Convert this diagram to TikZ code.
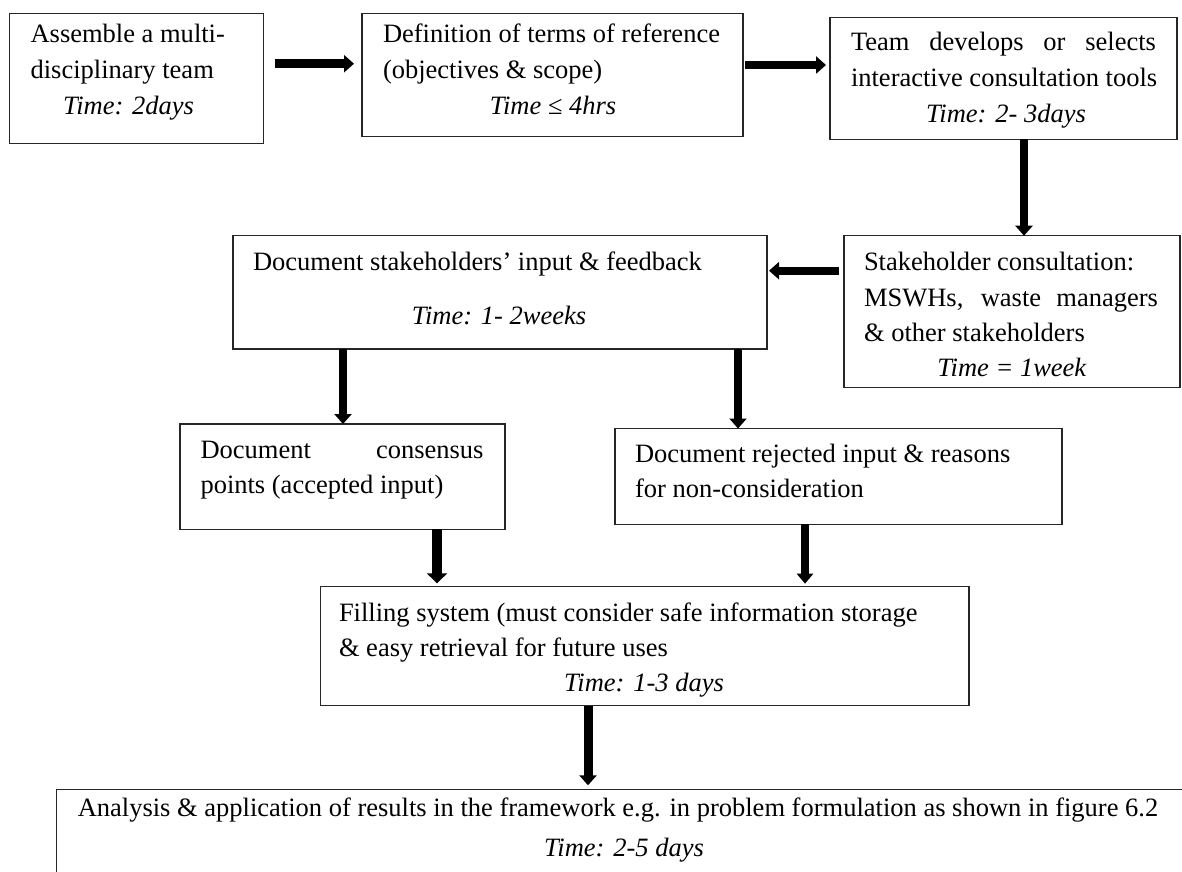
\documentclass[tikz,border=0pt]{standalone}
\usepackage{fontspec}
\setmainfont{Liberation Serif}
\usetikzlibrary{arrows.meta}

% one line of box text, set in a box of the given width and alignment
\newcommand\rowtext[3]{\par\noindent\makebox[#1][#2]{#3}}

\tikzset{
  stepbox/.style={draw=black!85, line width=1.3pt, rectangle, inner sep=0pt, outer sep=0pt},
  boxtext/.style={inner sep=0pt, outer sep=0pt, anchor=base west,
    font=\fontsize{26.5pt}{36pt}\selectfont},
  flow/.style={line width=8.5pt, -{Triangle[width=17pt,length=10pt]}},
}

\begin{document}
\begin{tikzpicture}[x=1pt,y=-1pt]
\useasboundingbox (0,0) rectangle (1182,871);
\clip (0,0) rectangle (1182,871);

% boxes
\node[stepbox, minimum width=254pt, minimum height=130pt]   (b1) at (136.5,78.3) {};
\node[stepbox, minimum width=381pt, minimum height=123.4pt] (b2) at (552.5,75) {};
\node[stepbox, minimum width=347pt, minimum height=122pt]   (b3) at (1003.5,78.3) {};
\node[stepbox, minimum width=336pt, minimum height=151.6pt] (b4) at (1012,311.5) {};
\node[stepbox, minimum width=534pt, minimum height=113.3pt] (b5) at (500,292.35) {};
\node[stepbox, minimum width=325pt, minimum height=105.3pt] (b6) at (342.5,476.65) {};
\node[stepbox, minimum width=447pt, minimum height=95.8pt]  (b7) at (838.5,476.4) {};
\node[stepbox, minimum width=648.5pt, minimum height=119pt] (b8) at (644.75,646.2) {};
\node[stepbox, minimum width=1143.5pt, minimum height=110.7pt] (b9) at (628.25,844.65) {};

% texts
\node[boxtext] (t1) at (30.6,42.5) {\parbox[t]{200pt}{%
  \rowtext{200pt}{l}{Assemble a multi-}%
  \rowtext{200pt}{l}{disciplinary team}%
  \rowtext{200pt}{l}{\hspace*{32.4pt}\textit{Time: 2days}}}};

\node[boxtext] (t2) at (383,42.5) {\parbox[t]{340pt}{%
  \rowtext{340pt}{l}{Definition of terms of reference}%
  \rowtext{340pt}{l}{(objectives \& scope)}%
  \rowtext{340pt}{c}{\textit{Time ≤ 4hrs}}}};

\node[boxtext] (t3) at (851,50.5) {\parbox[t]{310pt}{%
  \rowtext{305pt}{s}{Team develops or selects}%
  \rowtext{305pt}{l}{interactive consultation tools}%
  \rowtext{310pt}{c}{\textit{Time: 2- 3days}}}};

\node[boxtext] (t4) at (864,270.7) {\parbox[t]{296pt}{\setlength\baselineskip{35.3pt}%
  \rowtext{294pt}{l}{Stakeholder consultation:}%
  \rowtext{294pt}{s}{MSWHs, waste managers}%
  \rowtext{294pt}{l}{\& other stakeholders}%
  \rowtext{296pt}{c}{\textit{Time = 1week}}}};

\node[boxtext] (t5) at (253,270.7) {\parbox[t]{492pt}{%
  \rowtext{492pt}{l}{Document stakeholders’ input \& feedback}%
  \par\vspace{18pt}%
  \rowtext{492pt}{c}{\textit{Time: 1- 2weeks}}}};

\node[boxtext] (t6) at (200.5,458.3) {\parbox[t]{283pt}{\setlength\baselineskip{35pt}%
  \rowtext{283pt}{s}{Document consensus}%
  \rowtext{283pt}{l}{points (accepted input)}}};

\node[boxtext] (t7) at (635,462.7) {\parbox[t]{400pt}{\setlength\baselineskip{35pt}%
  \rowtext{400pt}{l}{Document rejected input \& reasons}%
  \rowtext{400pt}{l}{for non-consideration}}};

\node[boxtext] (t8) at (339,621.7) {\parbox[t]{610pt}{\setlength\baselineskip{35pt}%
  \rowtext{610pt}{l}{Filling system (must consider safe information storage}%
  \rowtext{610pt}{l}{\& easy retrieval for future uses}%
  \rowtext{610pt}{c}{\textit{Time: 1-3 days}}}};

\node[boxtext] (t9) at (75,816.7) {\parbox[t]{1098pt}{\setlength\baselineskip{40pt}%
  \rowtext{1086pt}{c}{Analysis \& application of results in the framework e.g. in problem formulation as shown in figure 6.2}%
  \rowtext{1098pt}{c}{\textit{Time: 2-5 days}}}};

% connectors
\draw[flow, shorten <=11.5pt, shorten >=8pt] (b1.east |- 0,63.7) -- (b2.west |- 0,63.7);
\draw[flow, shorten <=2pt, shorten >=4pt]    (b2.east |- 0,65) -- (b3.west |- 0,65);
\draw[flow]                                  (b3.south -| 1024,0) -- (b4.north -| 1024,0);
\draw[flow, line width=8pt, shorten <=5pt, shorten >=2pt] (b4.west |- 0,270.7) -- (b5.east |- 0,270.7);
\draw[flow, line width=7.5pt]                (b5.south -| 343,0) -- (b6.north -| 343,0);
\draw[flow]                                  (b5.south -| 738,0) -- (b7.north -| 738,0);
\draw[line width=10pt, -{Triangle[width=20pt,length=10pt]}, shorten >=3.4pt]
                                             (b6.south -| 437,0) -- (b8.north -| 437,0);
\draw[flow, line width=8pt, -{Triangle[width=16pt,length=10pt]}, shorten >=3pt]
                                             (b7.south -| 805,0) -- (b8.north -| 805,0);
\draw[flow, line width=9pt, shorten >=4pt]   (b8.south -| 588,0) -- (b9.north -| 588,0);
\end{tikzpicture}
\end{document}
